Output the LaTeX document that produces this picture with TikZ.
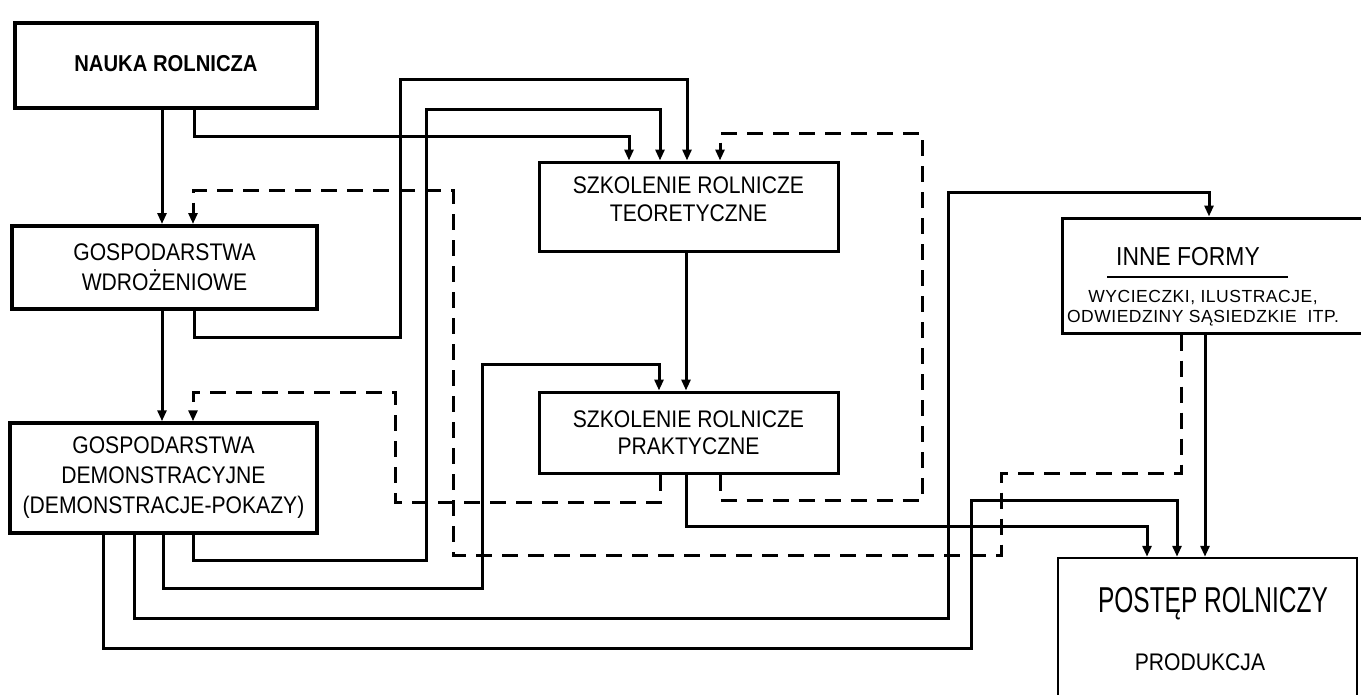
\documentclass[tikz,border=0pt]{standalone}
\usepackage{fontspec}
\setmainfont{Liberation Sans}
\newfontfamily\hand[FakeStretch=0.88]{Liberation Sans}
\newfontfamily\handtall[FakeStretch=0.68]{Liberation Sans}
\newfontfamily\handwide[LetterSpace=3]{Liberation Sans}
\usetikzlibrary{arrows.meta,calc}

\begin{document}
\begin{tikzpicture}[x=1pt,y=-1pt,
    box/.style={draw, rectangle, line width=3pt, inner sep=0pt, align=center,
      font=\hand\fontsize{24}{30}\selectfont},
    flow/.style={line width=3pt, -{Triangle[length=11pt,width=9pt]}},
    feedback/.style={flow, dash pattern=on 16pt off 10pt}]
  \useasboundingbox (0,0) rectangle (1361,694);
  \clip (0,0) rectangle (1361,694);

  % Boxes
  \node[box, line width=4.5pt, minimum width=302pt, minimum height=85pt, font=\hand\fontsize{23}{28}\selectfont] (NR) at (166,65.5) {\mbox{}\\[-16pt]\bfseries NAUKA ROLNICZA};
  \node[box, line width=4pt, minimum width=305pt, minimum height=83pt] (GW) at (164.5,267.5) {GOSPODARSTWA\\WDROŻENIOWE};
  \node[box, line width=3.5pt, minimum width=307pt, minimum height=110pt] (GD) at (163.5,478) {GOSPODARSTWA\\DEMONSTRACYJNE\\(DEMONSTRACJE-POKAZY)};
  \node[box, minimum width=299pt, minimum height=89pt, font=\hand\fontsize{24}{28}\selectfont] (ST) at (688.5,206.5) {SZKOLENIE ROLNICZE\\TEORETYCZNE\\[-14pt]\mbox{}};
  \node[box, minimum width=299pt, minimum height=81pt, font=\hand\fontsize{24}{27}\selectfont] (PR) at (688.5,432.5) {SZKOLENIE ROLNICZE\\PRAKTYCZNE};
  \node[box, minimum width=303pt, minimum height=115pt] (IF) at (1213.5,275.5) {};
  \node[box, line width=2.5pt, minimum width=299pt, minimum height=162pt] (PO) at (1207.5,639) {};

  % Texts in the right boxes
  \node[font=\hand\fontsize{26}{30}\selectfont] (IFtitle) at (1188,257) {INNE FORMY};
  \draw[line width=2.5pt] (1107,277) -- (1288,277);
  \node[font=\handwide\fontsize{17.5}{20}\selectfont, align=center] (IFlist) at (1203,308) {WYCIECZKI, ILUSTRACJE,\\ODWIEDZINY SĄSIEDZKIE \ ITP.};
  \node[font=\handtall\fontsize{36}{40}\selectfont] (POtitle) at (1213,604) {POSTĘP ROLNICZY};
  \node[font=\hand\fontsize{24}{26}\selectfont] (POsub) at (1200,662) {PRODUKCJA};

  % Straight flows
  \foreach \from/\to/\x in {NR/GW/162, GW/GD/162, ST/PR/686, IF/PO/1205}
    \draw[flow] (\from.south -| \x,0) -- (\to.north -| \x,0);

  % Flows with bends
  \draw[flow] (NR.south -| 194,0) |- (629,136) -- (ST.north -| 629,0);
  \draw[flow] (GW.south -| 194,0) |- (400,337) |- (687,79) -- (ST.north -| 687,0);
  \draw[flow] (GD.south -| 193,0) |- (426,560) |- (660,109) -- (ST.north -| 660,0);
  \draw[flow] (GD.south -| 163,0) |- (482,588) |- (659,364) -- (PR.north -| 659,0);
  \draw[flow] (GD.south -| 134,0) |- (948,618) |- (1209,192) -- (IF.north -| 1209,0);
  \draw[flow] (GD.south -| 103,0) |- (971,648) |- (1177,500) -- (PO.north -| 1177,0);
  \draw[flow] (PR.south -| 686,0) |- (1147,526) -- (PO.north -| 1147,0);

  % Dashed feedback
  \draw[feedback] (PR.south -| 720,0) |- (922,500) |- (720,133) -- (ST.north -| 720,0);
  \draw[feedback] (PR.south -| 660,0) |- (395,502) |- (193,392) -- (GD.north -| 193,0);
  \draw[feedback] (IF.south -| 1181,0) |- (1001,473) |- (453,555) |- (193,190) -- (GW.north -| 193,0);
\end{tikzpicture}
\end{document}
